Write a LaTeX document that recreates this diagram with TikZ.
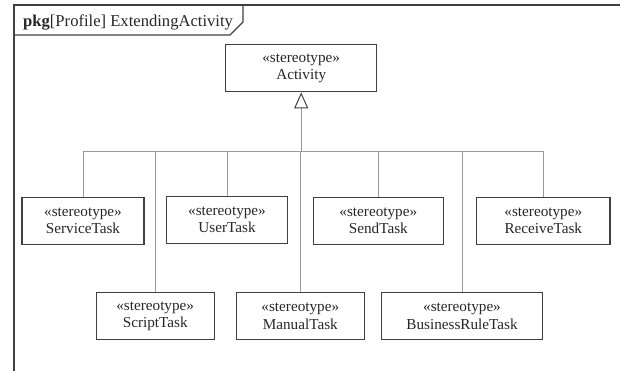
\documentclass[tikz,border=0pt]{standalone}
\usepackage{fontspec}
\setmainfont{Liberation Serif}
\usetikzlibrary{arrows.meta,positioning}
\definecolor{umlline}{gray}{0.25}
\definecolor{umlgen}{gray}{0.6}

\begin{document}
\begin{tikzpicture}[x=1pt,y=-1pt,
  stype/.style={draw=umlline,line width=1.1pt,align=center,inner sep=0pt,font=\fontsize{15.2}{17.5}\selectfont,text=black!85,minimum height=47pt},
  gen/.style={draw=umlgen,line width=0.9pt},
  frameline/.style={draw=umlline,line width=1.1pt}
]
\useasboundingbox (0,0) rectangle (620,370);
\draw[frameline] (621,5) -- (14,5) -- (14,371);
\draw[frameline] (14,35) -- (230,35) -- (243,22) -- (243,5);
\node[anchor=base west,inner sep=0pt,font=\fontsize{16.6}{19}\selectfont,text=black!85] (title) at (23,26) {\textbf{pkg}[Profile] ExtendingActivity};

\node[stype,minimum width=151pt] (Activity) at (301.2,68.3) {«stereotype»\\Activity};

\node[stype,minimum width=122pt] (ServiceTask) at (83,221) {«stereotype»\\ServiceTask};
\node[stype,minimum width=120.6pt] (UserTask) at (227,220) {«stereotype»\\UserTask};
\node[stype,minimum width=130pt] (SendTask) at (378.3,221) {«stereotype»\\SendTask};
\node[stype,minimum width=133.3pt] (ReceiveTask) at (543.3,221) {«stereotype»\\ReceiveTask};

\node[stype,minimum width=118.3pt] (ScriptTask) at (155.2,316.3) {«stereotype»\\ScriptTask};
\node[stype,minimum width=128pt] (ManualTask) at (300.3,316.3) {«stereotype»\\ManualTask};
\node[stype,minimum width=160.6pt] (BusinessRuleTask) at (462,316.3) {«stereotype»\\BusinessRuleTask};

\coordinate (bus) at (0,151);
\draw[gen] (ServiceTask.north |- bus) -- (ReceiveTask.north |- bus);
\foreach \t in {ServiceTask,UserTask,SendTask,ReceiveTask,ScriptTask,ManualTask,BusinessRuleTask}
  \draw[gen] (\t.north) -- (\t.north |- bus);
\draw[gen,-{Triangle[open,length=16pt,width=14pt,line width=1pt,color=umlline,fill=white]}] (Activity.south |- bus) -- (Activity.south);
\end{tikzpicture}
\end{document}
